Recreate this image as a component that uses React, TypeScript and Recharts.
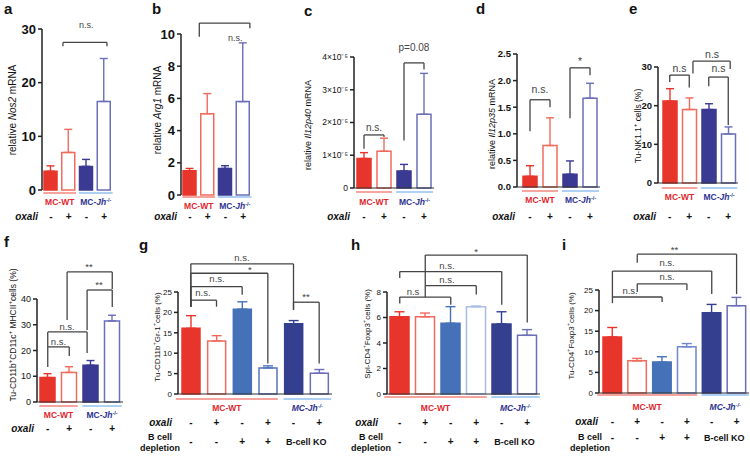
import React from 'react';
import { BarChart, Bar, Cell, XAxis, YAxis, ErrorBar, ReferenceLine, ReferenceDot } from 'recharts';

const W = 750;
const H = 456;
const FONT = '"Liberation Sans", Arial, Helvetica, sans-serif';

const RED = '#e8352b';
const RED_OPEN = '#f06b5e';
const NAVY = '#3a3a92';
const NAVY_OPEN = '#6b6fb8';
const MID_BLUE = '#4471b7';
const WT_LINE = '#ec4a42';
const JH_LINE = '#5ea3e8';
const WT_TEXT = '#e2262c';
const JH_TEXT = '#2d3290';
const INK = '#444';

type Note = [number, number, string];

// shared row labels
const topOxali = ['-', '+', '-', '+'];
const wideOxali = ['-', '+', '-', '+', '-', '+'];
const bDepletion = ['-', '-', '+', '+'];

// brackets: [from bar, to bar, top, left leg end, right leg end]; notes: [bar pos, y, text]

// a - Nos2
const aMeans = [3.5, 7.0, 4.4, 16.5];
const aErrs = [1.0, 4.3, 1.3, 8.0];
const aTicks = [0, 10, 20, 30];
const aBrackets = [[0.68, 3.16, 27.5, 26.8, 26.8]];
const aNotes: Note[] = [[2.0, 30.7, 'n.s.']];

// b - Arg1
const bMeans = [1.5, 5.05, 1.65, 5.8];
const bErrs = [0.15, 1.25, 0.17, 3.65];
const bTicks = [0, 2, 4, 6, 8, 10];
const bBrackets = [[0.53, 3.38, 10.68, 9.83, 10.35]];
const bNotes: Note[] = [[2.56, 9.75, 'n.s.']];

// c - Il12p40
const cMeans = [0.9e-5, 1.12e-5, 0.52e-5, 2.25e-5];
const cErrs = [0.18e-5, 0.4e-5, 0.2e-5, 1.25e-5];
const cTicks = [0, 1e-5, 2e-5, 3e-5, 4e-5];
const cBrackets = [
  [0, 1, 1.62e-5, 1.2e-5, 1.56e-5],
  [2, 3, 3.82e-5, 1.45e-5, 3.62e-5],
];
const cNotes: Note[] = [[0.5, 1.85e-5, 'n.s.'], [2.5, 4.3e-5, 'p=0.08']];

// d - Il12p35
const dMeans = [0.2, 0.78, 0.24, 1.67];
const dErrs = [0.2, 0.52, 0.25, 0.28];
const dTicks = [0, 0.5, 1.0, 1.5, 2.0, 2.5];
const dBrackets = [
  [0, 1, 1.64, 1.05, 1.5],
  [2, 3, 2.24, 1.29, 2.1],
];
const dNotes: Note[] = [[0.5, 1.84, 'n.s.'], [2.5, 2.36, '*']];

// e - NK1.1
const eMeans = [21.2, 19.0, 19.0, 12.7];
const eErrs = [3.2, 3.0, 1.5, 1.8];
const eTicks = [0, 10, 20, 30];
const eBrackets = [
  [0, 1, 27.9, 26.1, 24.7],
  [2, 3, 27.4, 25.0, 15.0],
  [1.19, 3.1, 31.5, 28.3, 29.5],
];
const eNotes: Note[] = [[0.5, 29.7, 'n.s'], [2.5, 29.7, 'n.s'], [2.17, 33.3, 'n.s']];

// f - CD11b+CD11c+MHCII+
const fMeans = [9.5, 11.5, 14.3, 31.5];
const fErrs = [1.5, 2.2, 1.8, 2.2];
const fTicks = [0, 10, 20, 30, 40];
const fBrackets = [
  [0, 1, 21.4, 13.6, 17.9],
  [0, 1.83, 27.2, 21.4, 19.0],
  [1.83, 3, 43.5, 28, 36.9],
  [0.9, 3, 50.5, 31.8, 43.9],
];
const fNotes: Note[] = [[0.5, 23.6, 'n.s.'], [0.9, 29.5, 'n.s.'], [2.38, 45.6, '**'], [1.92, 52.6, '**']];

// g - CD11b+Gr-1+
const gMeans = [16.1, 13.0, 20.8, 6.4, 17.2, 5.1];
const gErrs = [3.1, 1.3, 1.8, 0.5, 0.8, 0.9];
const gTicks = [0, 5, 10, 15, 20, 25];
const gBrackets = [
  [0, 1, 23.0, 21.4, 21.4],
  [0, 2, 26.3, 21.4, 24.3],
  [0, 3, 29.6, 21.4, 7.5],
  [0, 4, 31.9, 21.4, 20.6],
  [4, 5, 22.5, 20.6, 7.5],
];
const gNotes: Note[] = [[0.47, 24.8, 'n.s.'], [1.02, 28.2, 'n.s.'], [2.3, 30.6, '*'], [1.99, 33.4, 'n.s.'], [4.49, 23.8, '**']];

// h - Spl CD4+Foxp3+
const hMeans = [6.05, 6.05, 5.55, 6.85, 5.5, 4.6];
const hErrs = [0.4, 0.3, 1.3, 0.05, 0.95, 0.45];
const hTicks = [0, 2, 4, 6, 8];
const hBrackets = [
  [0, 2, 7.6, 7.1, 7.0],
  [1, 3, 8.5, 7.6, 7.8],
  [0, 4, 9.6, 9.1, 7.0],
  [1, 5, 10.9, 8.5, 5.6],
];
const hNotes: Note[] = [[0.52, 8.05, 'n.s'], [1.85, 8.95, 'n.s.'], [1.85, 10.1, 'n.s.'], [2.99, 11.2, '*']];

// i - Tu CD4+Foxp3+
const iMeans = [13.6, 7.8, 7.5, 11.2, 19.5, 21.2];
const iErrs = [2.3, 0.6, 1.3, 0.8, 2.0, 2.0];
const iTicks = [0, 5, 10, 15, 20, 25];
const iBrackets = [
  [0, 2, 23.3, 21.8, 22.1],
  [1, 3, 26.5, 24.5, 25.0],
  [0, 4, 29.6, 23.3, 24.0],
  [1, 5, 33.7, 31.6, 24.0],
];
const iNotes: Note[] = [[0.71, 25.0, 'n.s.'], [2.2, 28.2, 'n.s.'], [2.2, 31.6, 'n.s.'], [2.5, 34.9, '**']];

const TOP_FILLS = [RED, '#ffffff', NAVY, '#ffffff'];
const TOP_STROKES = [RED, RED_OPEN, NAVY, NAVY_OPEN];
const WIDE_FILLS = [RED, '#ffffff', MID_BLUE, '#ffffff', '#34408f', '#ffffff'];

type Part = [string, string];
type Panel = {
  id: string;
  means: number[];
  errs: number[];
  ticks: number[];
  brackets: number[][];
  notes: Note[];
  fills: string[];
  strokes: string[];
  fmt?: (v: number) => string;
  left: number; right: number; top: number; bottom: number; pad: number;
  barW: number; cap: number; xLine: boolean;
  tickSize: number; tickBold: boolean; noteSize: number;
  letter: [number, number];
  yLab: [number, number, number];
  yParts: Part[];
  groupY: [number, number]; groupSize: number;
  oxali: string[]; rowY: number; oxaliX: number;
  bcell?: { x: number; y1: number; y2: number; sym: number };
};

const sup = (s: string): Part => [s, 's'];
const yMaxOf = (p: Panel) => p.ticks[p.ticks.length - 1];

const PANELS: Panel[] = [
  {
    id: 'a', means: aMeans, errs: aErrs, ticks: aTicks, brackets: aBrackets, notes: aNotes,
    fills: TOP_FILLS, strokes: TOP_STROKES,
    left: 42, right: 113, top: 29, bottom: 190, pad: 0, barW: 13, cap: 4, xLine: false,
    tickSize: 13, tickBold: true, noteSize: 9,
    letter: [4, 14], yLab: [12, 110, 10], yParts: [['relative ', ''], ['Nos2', 'i'], [' mRNA', '']],
    groupY: [193, 202], groupSize: 8.5, oxali: topOxali, rowY: 216, oxaliX: 38,
  },
  {
    id: 'b', means: bMeans, errs: bErrs, ticks: bTicks, brackets: bBrackets, notes: bNotes,
    fills: TOP_FILLS, strokes: TOP_STROKES,
    left: 181, right: 252, top: 34, bottom: 195, pad: 0, barW: 13, cap: 4, xLine: false,
    tickSize: 13, tickBold: true, noteSize: 9,
    letter: [152, 14], yLab: [157, 110, 10], yParts: [['relative ', ''], ['Arg1', 'i'], [' mRNA', '']],
    groupY: [197, 206], groupSize: 8.5, oxali: topOxali, rowY: 216, oxaliX: 177,
  },
  {
    id: 'c', means: cMeans, errs: cErrs, ticks: cTicks, brackets: cBrackets, notes: cNotes,
    fills: TOP_FILLS, strokes: TOP_STROKES,
    fmt: (v: number) => (v === 0 ? '0' : `${Math.round(v * 1e5)}×10⁻⁵`),
    left: 354, right: 434, top: 57, bottom: 188, pad: 0, barW: 14, cap: 4, xLine: true,
    tickSize: 8.5, tickBold: false, noteSize: 10,
    letter: [304, 16], yLab: [308, 125, 9], yParts: [['relative ', ''], ['Il12p40', 'i'], [' mRNA', '']],
    groupY: [192, 202], groupSize: 8.5, oxali: topOxali, rowY: 216, oxaliX: 350,
  },
  {
    id: 'd', means: dMeans, errs: dErrs, ticks: dTicks, brackets: dBrackets, notes: dNotes,
    fills: TOP_FILLS, strokes: TOP_STROKES,
    fmt: (v: number) => v.toFixed(1),
    left: 517, right: 600, top: 54, bottom: 187, pad: 3, barW: 14, cap: 4, xLine: true,
    tickSize: 9.5, tickBold: true, noteSize: 10.5,
    letter: [476, 14], yLab: [492, 124, 9], yParts: [['relative ', ''], ['Il12p35', 'i'], [' mRNA', '']],
    groupY: [191, 200], groupSize: 8.5, oxali: topOxali, rowY: 216, oxaliX: 515,
  },
  {
    id: 'e', means: eMeans, errs: eErrs, ticks: eTicks, brackets: eBrackets, notes: eNotes,
    fills: TOP_FILLS, strokes: TOP_STROKES,
    left: 658, right: 738, top: 67, bottom: 183, pad: 2, barW: 14, cap: 4, xLine: true,
    tickSize: 9.5, tickBold: true, noteSize: 10.5,
    letter: [629, 14], yLab: [638, 126, 8.5], yParts: [['Tu-NK1.1', ''], sup('+'), [' cells (%)', '']],
    groupY: [188, 197], groupSize: 8.5, oxali: topOxali, rowY: 216, oxaliX: 656,
  },
  {
    id: 'f', means: fMeans, errs: fErrs, ticks: fTicks, brackets: fBrackets, notes: fNotes,
    fills: TOP_FILLS, strokes: TOP_STROKES,
    left: 37, right: 123, top: 299, bottom: 402, pad: 0, barW: 15, cap: 4, xLine: true,
    tickSize: 9, tickBold: false, noteSize: 9.5,
    letter: [4, 247], yLab: [13, 335, 8.5],
    yParts: [['Tu-CD11b', ''], sup('+'), ['CD11c', ''], sup('+'), [' MHCII', ''], sup('+'), ['cells (%)', '']],
    groupY: [406, 415], groupSize: 8.5, oxali: wideOxali.slice(0, 4), rowY: 428, oxaliX: 34,
  },
  {
    id: 'g', means: gMeans, errs: gErrs, ticks: gTicks, brackets: gBrackets, notes: gNotes,
    fills: WIDE_FILLS, strokes: [RED, RED_OPEN, MID_BLUE, '#5675bd', '#34408f', NAVY_OPEN],
    left: 178, right: 332, top: 292, bottom: 394, pad: 0, barW: 18, cap: 5, xLine: true,
    tickSize: 8, tickBold: false, noteSize: 9.5,
    letter: [139, 250], yLab: [157, 337, 8],
    yParts: [['Tu-CD11b', ''], sup('+'), ['Gr-1', ''], sup('+'), ['cells (%)', '']],
    groupY: [399, 408], groupSize: 8.5, oxali: wideOxali, rowY: 422, oxaliX: 172,
    bcell: { x: 160, y1: 437, y2: 448, sym: 441 },
  },
  {
    id: 'h', means: hMeans, errs: hErrs, ticks: hTicks, brackets: hBrackets, notes: hNotes,
    fills: WIDE_FILLS, strokes: [RED, RED_OPEN, MID_BLUE, '#a9bce6', '#34408f', NAVY_OPEN],
    left: 387, right: 540, top: 292, bottom: 394, pad: 0, barW: 19, cap: 5, xLine: true,
    tickSize: 8, tickBold: false, noteSize: 9.5,
    letter: [351, 250], yLab: [367, 334, 8],
    yParts: [['Spl-CD4', ''], sup('+'), ['Foxp3', ''], sup('+'), ['cells (%)', '']],
    groupY: [397, 408], groupSize: 8.5, oxali: wideOxali, rowY: 422, oxaliX: 378,
    bcell: { x: 371, y1: 437, y2: 448, sym: 441 },
  },
  {
    id: 'i', means: iMeans, errs: iErrs, ticks: iTicks, brackets: iBrackets, notes: iNotes,
    fills: WIDE_FILLS, strokes: [RED, RED_OPEN, MID_BLUE, '#6f88cb', '#34408f', NAVY_OPEN],
    left: 599, right: 749, top: 290, bottom: 393, pad: 1, barW: 18.5, cap: 5, xLine: true,
    tickSize: 8, tickBold: false, noteSize: 9.5,
    letter: [562, 250], yLab: [571, 336, 8],
    yParts: [['Tu-CD4', ''], sup('+'), ['Foxp3', ''], sup('+'), ['cells (%)', '']],
    groupY: [395, 407], groupSize: 8.5, oxali: wideOxali, rowY: 421, oxaliX: 598,
    bcell: { x: 590, y1: 437, y2: 448, sym: 437 },
  },
];

const bandWidth = (p: Panel) => (p.right - p.left - p.pad) / p.means.length;
const bandCenter = (p: Panel, i: number) => p.left + p.pad + (i + 0.5) * bandWidth(p);

const YW = 30;
const XH = 2;

function PanelChart({ p }: { p: Panel }) {
  const bw = bandWidth(p);
  const rows = p.means.map((v, i) => {
    const r: Record<string, unknown> = { k: String(i), pos: i, v };
    r['e' + i] = [0, p.errs[i]];
    return r;
  });
  const lines: React.ReactNode[] = [];
  p.brackets.forEach(([x1, x2, y, yl, yr], j) => {
    const segs = [
      [{ x: x1, y: yl }, { x: x1, y }],
      [{ x: x1, y }, { x: x2, y }],
      [{ x: x2, y }, { x: x2, y: yr }],
    ];
    segs.forEach((s, k) => {
      lines.push(
        <ReferenceLine key={`br${j}-${k}`} xAxisId="num" segment={s} ifOverflow="visible"
          stroke={INK} strokeWidth={1.3} />
      );
    });
  });
  const fmt = p.fmt ?? ((v: number) => String(v));
  return (
    <div style={{ position: 'absolute', left: 0, top: 0 }}>
      <BarChart width={W} height={H} data={rows}
        margin={{ top: p.top, left: p.left - YW, right: W - p.right, bottom: H - p.bottom - XH }}>
        <XAxis xAxisId="cat" dataKey="k" height={XH} tick={false} tickLine={false}
          axisLine={p.xLine ? { stroke: '#333', strokeWidth: 1.2 } : false}
          padding={{ left: p.pad, right: 0 }} />
        {/* numeric twin of the bar axis: bar i sits at x = i, used for the significance brackets */}
        <XAxis xAxisId="num" dataKey="pos" type="number" domain={['dataMin', 'dataMax']} hide
          padding={{ left: p.pad + bw / 2, right: bw / 2 }} />
        <YAxis width={YW} domain={[0, yMaxOf(p)]} ticks={p.ticks} interval={0} tickSize={4}
          tick={(t: any) => (
            <text x={t.x} y={t.y} dy={p.tickSize * 0.35} textAnchor="end" fontSize={p.tickSize}
              fontWeight={p.tickBold ? 700 : 400} fill="#111" fontFamily={FONT}>
              {fmt(t.payload.value)}
            </text>
          )}
          axisLine={{ stroke: '#222', strokeWidth: 1.5 }} tickLine={{ stroke: '#222', strokeWidth: 1.5 }} />
        <Bar xAxisId="cat" dataKey="v" barSize={p.barW} isAnimationActive={false}>
          {p.means.map((_, i) => (
            <Cell key={`c${i}`} fill={p.fills[i]} stroke={p.strokes[i]} strokeWidth={1.5} />
          ))}
          {p.means.map((_, i) => (
            <ErrorBar key={`e${i}`} dataKey={'e' + i} stroke={p.strokes[i]} strokeWidth={1.4}
              width={p.cap} isAnimationActive={false} />
          ))}
        </Bar>
        {lines}
        {p.notes.map(([x, y, t], j) => (
          <ReferenceDot key={`n${j}`} xAxisId="num" x={x} y={y} r={1} ifOverflow="visible"
            shape={(s: any) => (
              <text x={s.cx} y={s.cy} textAnchor="middle" dominantBaseline="central"
                fontSize={p.noteSize} fill={INK} fontFamily={FONT}>{t}</text>
            )} />
        ))}
      </BarChart>
    </div>
  );
}

function JhLabel() {
  return (
    <>
      <tspan>MC-</tspan>
      <tspan fontStyle="italic">Jh</tspan>
      <tspan fontSize={5.5} dy={-3}>-/-</tspan>
    </>
  );
}

function Decor({ p }: { p: Panel }) {
  const n = p.means.length;
  const c = (i: number) => bandCenter(p, i);
  const half = p.barW / 2;
  const wtEnd = n === 4 ? 1 : 3;
  const wide = n === 6;
  const wt0 = c(0) - half - (wide ? 6 : 1);
  const wt1 = c(wtEnd) + half + 1;
  const jh0 = c(wtEnd + 1) - half - 1;
  const jh1 = c(n - 1) + half + (wide ? 3 : 2);
  const [lx, ly, ls] = p.yLab;
  const symStyle = { fontSize: 10, fontWeight: 700, fill: '#111' } as const;
  return (
    <g fontFamily={FONT}>
      <text x={p.letter[0]} y={p.letter[1]} fontSize={15} fontWeight={700} fill="#111">{p.id}</text>
      <text transform={`translate(${lx},${ly}) rotate(-90)`} textAnchor="middle"
        dominantBaseline="central" fontSize={ls} fill="#111">
        {p.yParts.map(([t, s], j) => {
          const prev = j > 0 ? p.yParts[j - 1][1] : '';
          if (s === 's') return <tspan key={j} fontSize={ls * 0.7} dy={-3}>{t}</tspan>;
          return (
            <tspan key={j} fontStyle={s === 'i' ? 'italic' : 'normal'} dy={prev === 's' ? 3 : 0}>{t}</tspan>
          );
        })}
      </text>
      <line x1={wt0} x2={wt1} y1={p.groupY[0]} y2={p.groupY[0]} stroke={WT_LINE} strokeWidth={1.2} />
      <line x1={jh0} x2={jh1} y1={p.groupY[0]} y2={p.groupY[0]} stroke={JH_LINE} strokeWidth={1.2} />
      <text x={(wt0 + wt1) / 2} y={p.groupY[1] + 3} textAnchor="middle" fontSize={p.groupSize}
        fontWeight={700} fill={WT_TEXT}>MC-WT</text>
      <text x={(jh0 + jh1) / 2} y={p.groupY[1] + 3} textAnchor="middle" fontSize={p.groupSize}
        fontWeight={700} fill={JH_TEXT} fontStyle={wide ? 'italic' : 'normal'}><JhLabel /></text>
      <text x={p.oxaliX} y={p.rowY + 3.5} textAnchor="end" fontSize={10} fontWeight={700}
        fontStyle="italic" fill="#111">oxali</text>
      {p.oxali.map((s, i) => (
        <text key={`o${i}`} x={c(i)} y={p.rowY + 3.5} textAnchor="middle" {...symStyle}>{s}</text>
      ))}
      {p.bcell && (
        <>
          <text x={p.bcell.x} y={p.bcell.y1 + 3} textAnchor="middle" fontSize={9} fontWeight={700} fill="#111">B cell</text>
          <text x={p.bcell.x} y={p.bcell.y2 + 3} textAnchor="middle" fontSize={9} fontWeight={700} fill="#111">depletion</text>
          {bDepletion.map((s, i) => (
            <text key={`d${i}`} x={c(i)} y={p.bcell!.sym + 3.5} textAnchor="middle" {...symStyle}>{s}</text>
          ))}
          <text x={(c(4) + c(5)) / 2} y={p.bcell.sym + 3.5} textAnchor="middle" fontSize={9}
            fontWeight={700} fill="#111">B-cell KO</text>
        </>
      )}
    </g>
  );
}

export default function App() {
  return (
    <div style={{ position: 'absolute', left: 0, top: 0, width: W, height: H, background: '#fff', overflow: 'hidden' }}>
      {PANELS.map((p) => <PanelChart key={p.id} p={p} />)}
      <svg width={W} height={H} style={{ position: 'absolute', left: 0, top: 0, pointerEvents: 'none' }}>
        {PANELS.map((p) => <Decor key={p.id} p={p} />)}
      </svg>
    </div>
  );
}
